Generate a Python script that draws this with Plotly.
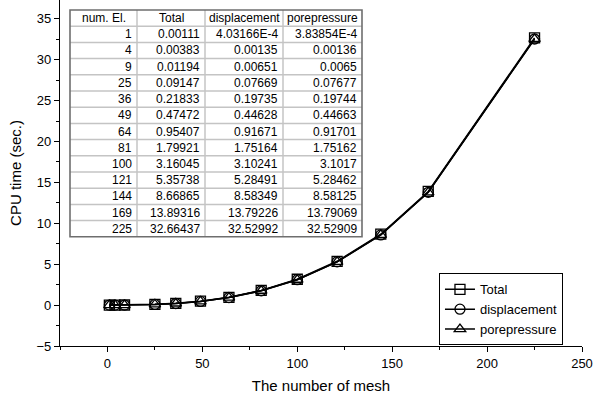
import plotly.graph_objects as go

num_el = [1, 4, 9, 25, 36, 49, 64, 81, 100, 121, 144, 169, 225]
total = [0.00111, 0.00383, 0.01194, 0.09147, 0.21833, 0.47472, 0.95407, 1.79921,
         3.16045, 5.35738, 8.66865, 13.89316, 32.66437]
displacement = [4.03166e-4, 0.00135, 0.00651, 0.07669, 0.19735, 0.44628, 0.91671,
                1.75164, 3.10241, 5.28491, 8.58349, 13.79226, 32.52992]
porepressure = [3.83854e-4, 0.00136, 0.0065, 0.07677, 0.19744, 0.44663, 0.91701,
                1.75162, 3.1017, 5.28462, 8.58125, 13.79069, 32.52909]
headers = ["num. El.", "Total", "displacement", "porepressure"]


def fmt(v):
    if isinstance(v, int):
        return str(v)
    if abs(v) < 1e-3:
        m, e = f"{v:.5E}".split("E")
        return f"{m}E{int(e)}"
    return repr(v)


FONT = "Liberation Sans, Arial, sans-serif"
fig = go.Figure()

series = [("Total", total, "square-open"),
          ("displacement", displacement, "circle-open"),
          ("porepressure", porepressure, "triangle-up-open")]
for name, vals, sym in series:
    fig.add_trace(go.Scatter(
        x=num_el, y=vals, name=name, mode="lines+markers",
        line=dict(color="black", width=1.5),
        marker=dict(symbol=sym, size=10, color="black", line=dict(width=1.3, color="black")),
    ))

# ---- inset table drawn with shapes + annotations (paper coords of plot area) ----
PL, PW, PH = 60, 522, 346          # plot area left, width, height (px)


def xp(px):
    return (px - PL) / PW


def yp(py):
    return 1 - py / PH


cols = [[fmt(v) for v in num_el], [fmt(v) for v in total],
        [fmt(v) for v in displacement], [fmt(v) for v in porepressure]]
col_edges = [70, 137, 205, 283, 362]
top, row_h = 10, 16.2
nrows = len(num_el) + 1
bottom = top + nrows * row_h

shapes = [dict(type="rect", xref="paper", yref="paper", x0=xp(col_edges[0]), x1=xp(col_edges[-1]),
               y0=yp(bottom), y1=yp(top), fillcolor="white", line=dict(width=0), layer="below")]
for r in range(1, nrows):
    y = yp(top + r * row_h)
    shapes.append(dict(type="line", xref="paper", yref="paper", x0=xp(col_edges[0]),
                       x1=xp(col_edges[-1]), y0=y, y1=y, line=dict(color="#c4c4c4", width=1.5)))
for c in col_edges[1:-1]:
    shapes.append(dict(type="line", xref="paper", yref="paper", x0=xp(c), x1=xp(c),
                       y0=yp(bottom), y1=yp(top), line=dict(color="#c4c4c4", width=1.5)))
shapes.append(dict(type="rect", xref="paper", yref="paper", x0=xp(col_edges[0]),
                   x1=xp(col_edges[-1]), y0=yp(bottom), y1=yp(top),
                   line=dict(color="#6e6e6e", width=1.6)))

annotations = []
for j, h in enumerate(headers):
    annotations.append(dict(xref="paper", yref="paper", x=xp((col_edges[j] + col_edges[j + 1]) / 2),
                            y=yp(top + 0.5 * row_h), text=h, showarrow=False,
                            xanchor="center", yanchor="middle",
                            font=dict(family=FONT, size=12, color="black")))
for j, col in enumerate(cols):
    for i, t in enumerate(col):
        annotations.append(dict(xref="paper", yref="paper", x=xp(col_edges[j + 1] - 3),
                                y=yp(top + (i + 1.5) * row_h), text=t, showarrow=False,
                                xanchor="right", yanchor="middle",
                                font=dict(family=FONT, size=12, color="black")))

fig.update_layout(
    width=600, height=396,
    margin=dict(l=60, r=18, t=0, b=50),
    paper_bgcolor="white", plot_bgcolor="white",
    font=dict(family=FONT, size=13, color="black"),
    showlegend=True,
    shapes=shapes, annotations=annotations,
    legend=dict(x=0.726, y=0.21, xanchor="left", yanchor="top",
                bordercolor="black", borderwidth=1, bgcolor="white",
                font=dict(size=13), tracegroupgap=0),
    xaxis=dict(range=[-25, 250], tickvals=[0, 50, 100, 150, 200, 250],
               showline=True, linecolor="black", linewidth=1.2, mirror=False,
               ticks="outside", ticklen=5, tickcolor="black", showgrid=False,
               zeroline=False,
               minor=dict(ticks="outside", ticklen=3, dtick=25, tick0=0, tickcolor="black"),
               title=dict(text="The number of mesh", font=dict(size=15), standoff=10)),
    yaxis=dict(range=[-5, 37.3], tickvals=[-5, 0, 5, 10, 15, 20, 25, 30, 35],
               showline=True, linecolor="black", linewidth=1.2, mirror=False,
               ticks="outside", ticklen=5, tickcolor="black", showgrid=False,
               zeroline=False,
               minor=dict(ticks="outside", ticklen=3, dtick=2.5, tick0=0, tickcolor="black"),
               title=dict(text="CPU time (sec.)", font=dict(size=15), standoff=11)),
)

fig.write_html("out.html")
